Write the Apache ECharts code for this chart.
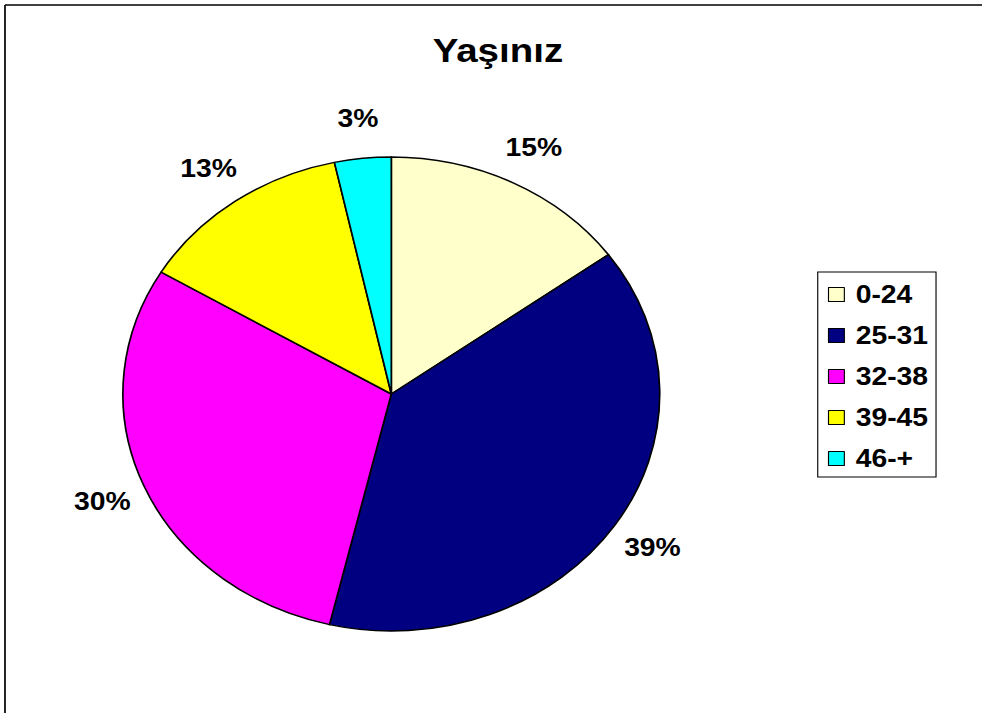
<!DOCTYPE html>
<html>
<head>
<meta charset="utf-8">
<script src="https://cdn.jsdelivr.net/npm/echarts@6/dist/echarts.min.js"></script>
<style>
  html, body { margin: 0; padding: 0; background: #fff; overflow: hidden; }
  #wrap { width: 982px; height: 713px; overflow: hidden; position: relative; }
  #chart { width: 867px; height: 713px; transform: scaleX(1.1326); transform-origin: 0 0; }
</style>
</head>
<body>
<div id="wrap"><div id="chart"></div></div>
<script>
const titleText = 'Yaşınız';
const categories = ['0-24', '25-31', '32-38', '39-45', '46-+'];
const values = [15.0, 38.7, 29.9, 13.0, 3.4];
const colors = ['#FFFFCC', '#000080', '#FF00FF', '#FFFF00', '#00FFFF'];

const FONT = '"Liberation Sans", Arial, sans-serif';
const pieData = categories.map((c, i) => ({ name: c, value: values[i], itemStyle: { color: colors[i] } }));

const chart = echarts.init(document.getElementById('chart'), null, { renderer: 'svg' });
chart.setOption({
  animation: false,
  backgroundColor: '#fff',
  title: {
    text: titleText,
    left: 382,
    top: 33,
    padding: 0,
    textStyle: { fontFamily: FONT, fontSize: 34, fontWeight: 'bold', color: '#000', lineHeight: 34 }
  },
  legend: {
    orient: 'vertical',
    left: 722,
    top: 272,
    padding: [10, 7, 6, 9],
    itemWidth: 14,
    itemHeight: 14,
    itemGap: 16,
    icon: 'rect',
    borderColor: '#000',
    borderWidth: 1,
    selectedMode: false,
    data: categories,
    itemStyle: { borderColor: '#000', borderWidth: 1 },
    textStyle: { fontFamily: FONT, fontSize: 25, fontWeight: 'bold', color: '#000', lineHeight: 25, padding: [0, 0, 0, 5] }
  },
  graphic: [{
    type: 'line',
    silent: true,
    shape: { x1: 4.4, y1: 5, x2: 867, y2: 5 },
    style: { stroke: '#000', lineWidth: 1.5 }
  }, {
    type: 'line',
    silent: true,
    shape: { x1: 4.4, y1: 5, x2: 4.4, y2: 713 },
    style: { stroke: '#000', lineWidth: 1.5 }
  }],
  series: [{
    type: 'pie',
    name: 'Yaş',
    center: [345.5, 394],
    radius: [0, 237],
    startAngle: 90,
    clockwise: true,
    silent: true,
    label: { show: false },
    labelLine: { show: false },
    itemStyle: { borderColor: '#000', borderWidth: 1.5 },
    data: pieData
  }, {
    type: 'pie',
    name: 'labels',
    center: [345.5, 394],
    radius: [0, 548],
    startAngle: 90,
    clockwise: true,
    silent: true,
    z: 1,
    itemStyle: { color: 'rgba(0,0,0,0)', borderWidth: 0 },
    label: {
      show: true,
      position: 'inside',
      formatter: p => Math.round(p.percent) + '%',
      fontFamily: FONT, fontSize: 25, fontWeight: 'bold', color: '#000'
    },
    labelLine: { show: false },
    emphasis: { disabled: true },
    data: categories.map((c, i) => ({ name: c, value: values[i] }))
  }]
});
</script>
</body>
</html>
